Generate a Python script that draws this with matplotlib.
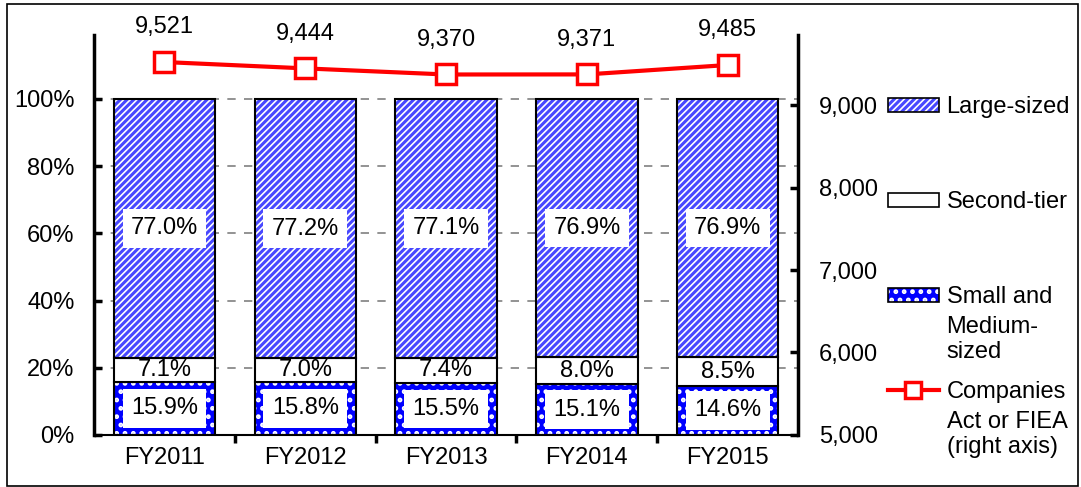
import matplotlib
matplotlib.use('Agg')
import matplotlib.pyplot as plt
from matplotlib.patches import Patch, Rectangle
from matplotlib.lines import Line2D
from matplotlib.ticker import FuncFormatter
from matplotlib.transforms import offset_copy

plt.rcParams['font.family'] = ['Liberation Sans', 'DejaVu Sans']
plt.rcParams['hatch.linewidth'] = 2.2

years = ['FY2011', 'FY2012', 'FY2013', 'FY2014', 'FY2015']
small = [15.9, 15.8, 15.5, 15.1, 14.6]
second = [7.1, 7.0, 7.4, 8.0, 8.5]
large = [77.0, 77.2, 77.1, 76.9, 76.9]
companies = [9521, 9444, 9370, 9371, 9485]

blue = '#0000ff'
stripe = '#4848ff'
fs = 17

fig = plt.figure(figsize=(10.81, 4.87), dpi=100)
ax = fig.add_axes([0.087, 0.1068, 0.6513, 0.8212])
ax2 = ax.twinx()

x = list(range(len(years)))
w = 0.72
b2 = [s for s in small]
b3 = [s + t for s, t in zip(small, second)]

# small and medium (dots)
ax.bar(x, small, w, color=blue, edgecolor='white', hatch='..', lw=0, zorder=2)
ax.bar(x, small, w, fill=False, edgecolor='black', lw=1.5, zorder=3)
# second tier
ax.bar(x, second, w, bottom=b2, color='white', edgecolor='black', lw=1.5, zorder=3)
# large (stripes)
ax.bar(x, large, w, bottom=b3, color='white', edgecolor=stripe, hatch='/////', lw=0, zorder=2)
ax.bar(x, large, w, bottom=b3, fill=False, edgecolor='black', lw=1.5, zorder=3)

box = dict(boxstyle='square,pad=0.35', fc='white', ec='none')
for i in x:
    ax.text(i, small[i] / 2, '%.1f%%' % small[i], ha='center', va='center', fontsize=fs, bbox=box, zorder=4)
    ax.text(i, b2[i] + second[i] / 2, '%.1f%%' % second[i], ha='center', va='center', fontsize=fs, zorder=4)
    ax.text(i, b3[i] + large[i] / 2, '%.1f%%' % large[i], ha='center', va='center', fontsize=fs, bbox=box, zorder=4)

ax.set_xlim(-0.5, 4.5)
ax.set_ylim(0, 119)
ax.set_yticks([0, 20, 40, 60, 80, 100])
ax.yaxis.set_major_formatter(FuncFormatter(lambda v, p: '%d%%' % v))
ax.set_xticks(x)
ax.set_xticklabels(years)
ax.set_xticks([0.5, 1.5, 2.5, 3.5], minor=True)
ax.tick_params(axis='x', which='major', length=0, labelsize=fs, pad=9)
ax.tick_params(axis='x', which='minor', length=6, width=2.5, direction='out')
ax.tick_params(axis='y', length=6, width=2.5, labelsize=fs, pad=14, direction='in')
for v in [20, 40, 60, 80, 100]:
    ax.axhline(v, color='#808080', ls=(0, (5, 5)), lw=1.2, zorder=1)

ax.spines['top'].set_visible(False)
ax2.spines['top'].set_visible(False)
ax.spines['left'].set_linewidth(2.5)
ax.spines['bottom'].set_linewidth(1.5)
ax2.spines['right'].set_linewidth(2.5)
ax2.spines['left'].set_visible(False)
ax2.spines['bottom'].set_visible(False)

ax2.plot(x, companies, color='red', lw=3, marker='s', ms=14, mfc='white', mec='red', mew=2.5, zorder=5)
for i in x:
    ax2.annotate('{:,}'.format(companies[i]), (i, companies[i]), xytext=(0, 25), textcoords='offset points',
                 ha='center', va='center', fontsize=fs)
ax2.set_ylim(5000, 9848)
ax2.set_yticks([5000, 6000, 7000, 8000, 9000])
ax2.yaxis.set_major_formatter(FuncFormatter(lambda v, p: '{:,}'.format(int(v))))
ax2.tick_params(axis='y', length=6, width=2.5, labelsize=fs, pad=15, direction='in')

# legend: one block per entry, extra lines of long labels go underneath
h_large = (Patch(fc='white', ec=stripe, hatch='/////', lw=0), Patch(fill=False, ec='black', lw=1.2))
h_second = Patch(fc='white', ec='black', lw=1.2)
h_small = (Patch(fc=blue, ec='white', hatch='..', lw=0), Patch(fill=False, ec='black', lw=1.2))
h_line = Line2D([], [], color='red', lw=3, marker='s', ms=11, mfc='white', mec='red', mew=2.5)
entries = [(h_large, 'Large-sized', '', 0.780),
           (h_second, 'Second-tier', '', 0.585),
           (h_small, 'Small and', 'Medium-\nsized', 0.390),
           (h_line, 'Companies', 'Act or FIEA\n(right axis)', 0.195)]
legs = []
for h, lab, rest, yy in entries:
    leg = fig.legend([h], [lab], loc='center left', bbox_to_anchor=(0.821, yy), frameon=False, fontsize=fs,
                     handlelength=2.2, handleheight=0.55, handletextpad=0.3, borderpad=0, borderaxespad=0)
    legs.append((leg, rest))

fig.canvas.draw()
for leg, rest in legs:
    if not rest:
        continue
    t = leg.get_texts()[0]
    bb = t.get_window_extent()
    tr = offset_copy(fig.transFigure, fig=fig, y=-19, units='dots')
    x0, y0 = fig.transFigure.inverted().transform((bb.x0, bb.y0 + bb.height / 2))
    fig.text(x0, y0, rest, transform=tr, ha='left', va='top', fontsize=fs, linespacing=1.2)

fig.patches.append(Rectangle((0.0065, 0.002), 0.991, 0.99, transform=fig.transFigure, fill=False,
                             ec='black', lw=1.2))

fig.savefig('out.png', dpi=100)
